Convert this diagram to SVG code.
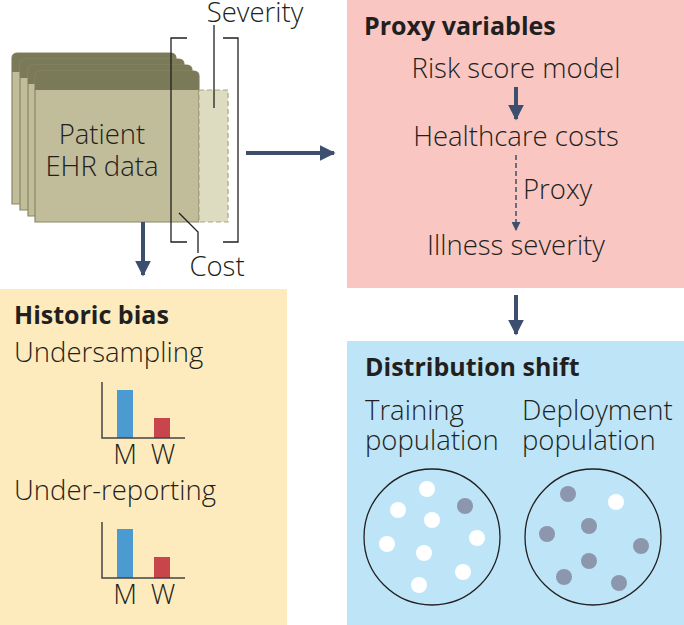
<svg xmlns="http://www.w3.org/2000/svg" width="684" height="625" viewBox="0 0 684 625">
<defs>
<style>
.t{font-family:"Open Sans","Liberation Sans",sans-serif;font-size:27.5px;font-weight:300;fill:#231f20}
.b{font-family:"Open Sans","Liberation Sans",sans-serif;font-size:25px;font-weight:bold;fill:#231f20}
.card{fill:#c1bc99;stroke:#8a8766;stroke-width:1.2}
.hdr{fill:#7b7a58}
.ln{stroke:#231f20;stroke-width:1.3;fill:none}
.arr{stroke:#3d4f6e;stroke-width:4;fill:none}
.ax{stroke:#444;stroke-width:1.5;fill:none}
.wd{fill:#ffffff}
.gd{fill:#8c97ad}
</style>
<marker id="ah" viewBox="0 0 10 10" refX="9" refY="5" markerWidth="4" markerHeight="4" orient="auto" markerUnits="strokeWidth">
<path d="M0,0 L10,5 L0,10 z" fill="#3d4f6e"/>
</marker>
<marker id="ahs" viewBox="0 0 10 10" refX="9" refY="5" markerWidth="6" markerHeight="6" orient="auto" markerUnits="strokeWidth">
<path d="M0,0 L10,5 L0,10 z" fill="#3d4f6e"/>
</marker>
</defs>
<rect width="684" height="625" fill="#ffffff"/>

<g id="ehr">
<g>
<path class="card" d="M12,204 V58 a5,5 0 0 1 5,-5 H171 a5,5 0 0 1 5,5 V204 Z"/>
<path class="hdr" d="M12,72 V58 a5,5 0 0 1 5,-5 H171 a5,5 0 0 1 5,5 V72 Z"/>
</g>
<g>
<path class="card" d="M20,210 V64 a5,5 0 0 1 5,-5 H179 a5,5 0 0 1 5,5 V210 Z"/>
<path class="hdr" d="M20,78 V64 a5,5 0 0 1 5,-5 H179 a5,5 0 0 1 5,5 V78 Z"/>
</g>
<g>
<path class="card" d="M28,216 V70 a5,5 0 0 1 5,-5 H187 a5,5 0 0 1 5,5 V216 Z"/>
<path class="hdr" d="M28,84 V70 a5,5 0 0 1 5,-5 H187 a5,5 0 0 1 5,5 V84 Z"/>
</g>
<g>
<path class="card" d="M35,222 V76 a5,5 0 0 1 5,-5 H194 a5,5 0 0 1 5,5 V222 Z"/>
<path class="hdr" d="M35,90 V76 a5,5 0 0 1 5,-5 H194 a5,5 0 0 1 5,5 V90 Z"/>
</g>
<rect x="199" y="90" width="29" height="132" fill="#dedcc0" stroke="#a9a683" stroke-width="1.2" stroke-dasharray="5,3"/>
<text class="t" x="102" y="144" text-anchor="middle">Patient</text>
<text class="t" x="102" y="176" text-anchor="middle">EHR data</text>
<path class="ln" d="M187,38 H171 V242 H187"/>
<path class="ln" d="M223,38 H238 V242 H223"/>
<line class="ln" x1="214" y1="25" x2="214" y2="108"/>
<path class="ln" d="M179,213 L198,232 V253"/>
<text class="t" x="255" y="22" text-anchor="middle">Severity</text>
<text class="t" x="217" y="276" text-anchor="middle">Cost</text>
</g>

<g id="proxy">
<rect x="347" y="0" width="337" height="288" fill="#f9c6c2"/>
<text class="b" x="364" y="35">Proxy variables</text>
<text class="t" x="516" y="78" text-anchor="middle">Risk score model</text>
<text class="t" x="516" y="146" text-anchor="middle">Healthcare costs</text>
<text class="t" x="523" y="199">Proxy</text>
<text class="t" x="516" y="255" text-anchor="middle">Illness severity</text>
</g>

<g id="historic">
<rect x="0" y="289" width="287" height="336" fill="#fdebbd"/>
<text class="b" x="14" y="324">Historic bias</text>
<text class="t" x="14" y="362">Undersampling</text>
<rect x="117" y="390" width="16" height="48" fill="#4b9ad0"/>
<rect x="154" y="418" width="16" height="20" fill="#c8464b"/>
<path class="ax" d="M102,382 V438 H185"/>
<text class="t" x="125" y="464" text-anchor="middle" font-size="24">M</text>
<text class="t" x="163" y="464" text-anchor="middle" font-size="24">W</text>
<text class="t" x="14" y="500">Under-reporting</text>
<rect x="117" y="529" width="16" height="49" fill="#4b9ad0"/>
<rect x="154" y="557" width="16" height="21" fill="#c8464b"/>
<path class="ax" d="M102,522 V578 H185"/>
<text class="t" x="125" y="604" text-anchor="middle" font-size="24">M</text>
<text class="t" x="163" y="604" text-anchor="middle" font-size="24">W</text>
</g>

<g id="shift">
<rect x="347" y="341" width="337" height="284" fill="#bde5f7"/>
<text class="b" x="365" y="376">Distribution shift</text>
<text class="t" x="365" y="420">Training</text>
<text class="t" x="365" y="450">population</text>
<text class="t" x="522" y="420">Deployment</text>
<text class="t" x="522" y="450">population</text>
<circle cx="432" cy="537" r="68" fill="none" stroke="#231f20" stroke-width="1.3"/>
<circle cx="593" cy="537" r="68" fill="none" stroke="#231f20" stroke-width="1.3"/>
<circle class="wd" cx="427" cy="489" r="8"/>
<circle class="wd" cx="398" cy="510" r="8"/>
<circle class="gd" cx="465" cy="506" r="8"/>
<circle class="wd" cx="432" cy="520" r="8"/>
<circle class="wd" cx="387" cy="544" r="8"/>
<circle class="wd" cx="477" cy="538" r="8"/>
<circle class="wd" cx="424" cy="553" r="8"/>
<circle class="wd" cx="463" cy="572" r="8"/>
<circle class="wd" cx="419" cy="585" r="8"/>
<circle class="gd" cx="568" cy="494" r="8"/>
<circle class="wd" cx="616" cy="502" r="8"/>
<circle class="gd" cx="589" cy="526" r="8"/>
<circle class="gd" cx="547" cy="534" r="8"/>
<circle class="gd" cx="641" cy="546" r="8"/>
<circle class="gd" cx="589" cy="561" r="8"/>
<circle class="gd" cx="564" cy="577" r="8"/>
<circle class="gd" cx="619" cy="583" r="8"/>
</g>

<g id="connectors">
<line class="arr" x1="246" y1="153" x2="334" y2="153" marker-end="url(#ah)"/>
<line class="arr" x1="143" y1="222" x2="143" y2="275" marker-end="url(#ah)"/>
<line class="arr" x1="516" y1="87" x2="516" y2="119" marker-end="url(#ah)"/>
<line class="arr" x1="516" y1="295" x2="516" y2="334" marker-end="url(#ah)"/>
<line x1="516" y1="155" x2="516" y2="230" stroke="#3d4f6e" stroke-width="1.5" stroke-dasharray="5,3" marker-end="url(#ahs)"/>
</g>
</svg>
